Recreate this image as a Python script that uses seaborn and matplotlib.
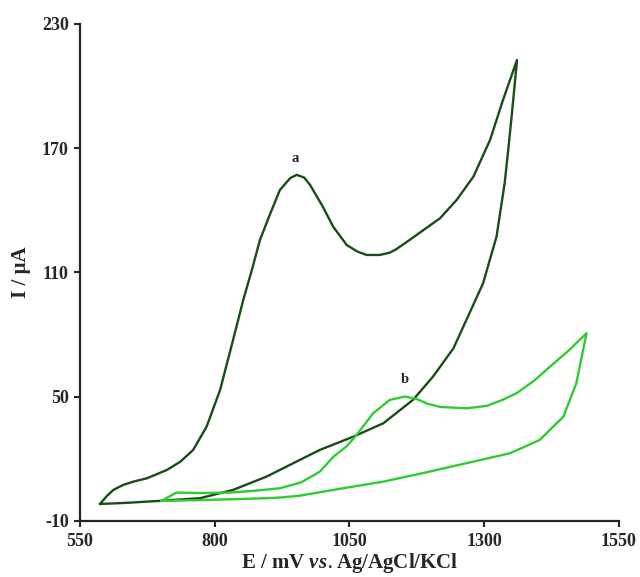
import pandas as pd
import seaborn as sns
import matplotlib.pyplot as plt

# curve a: forward + reverse scan
pot_a = [587, 600, 612, 630, 649, 674, 711, 736, 760, 785, 810, 834, 853, 869, 884, 902, 921,
         940, 952, 966, 977, 1000, 1020, 1045, 1065, 1082, 1106, 1125, 1137, 1162, 1185, 1205,
         1218, 1249, 1280, 1311, 1335, 1361,
         1356, 1351, 1345, 1338, 1323, 1298, 1267, 1243, 1205, 1168, 1113, 1057, 995,
         958, 896, 834, 773, 698, 640, 587]
cur_a = [-1.9, 2.0, 4.9, 7.3, 8.9, 10.5, 14.5, 18.5, 24.2, 35.5, 53.2, 77.3, 96.7, 111.2,
         125.7, 137.7, 149.8, 155.5, 157.1, 155.8, 152.2, 142, 132, 123.2, 120, 118.4, 118.4,
         119.5, 121.2, 125.7, 130, 133.7, 136.1, 145, 156.2, 174, 193.3, 212.6,
         199, 185.4, 170, 153, 127.3, 104.7, 87, 73.3, 59.6, 48.4, 37.1, 30.6, 24.2,
         19.4, 11.3, 4.9, 0.9, -0.4, -1.3, -1.9]

# curve b
pot_b = [701, 729, 773, 828, 875, 921, 960, 995, 1020, 1045, 1063, 1094, 1125, 1153, 1175,
         1195, 1218, 1267, 1305, 1335, 1360, 1392, 1422, 1458, 1490,
         1471, 1447, 1403, 1348, 1267, 1193, 1113, 1020, 958, 921, 896, 834, 773, 701]
cur_b = [-0.4, 3.6, 3.4, 3.6, 4.5, 5.7, 8.5, 13.7, 20.9, 26, 31.4, 41.9, 48.4, 50, 48.8,
         46.5, 45, 44.3, 45.5, 48.5, 51.6, 57.5, 64.4, 72.5, 80.6,
         56.4, 40.3, 29, 22.6, 17.8, 13.4, 8.9, 4.9, 2.1, 1.2, 0.9, 0.4, 0.0, -0.4]

labels = ["a", "b"]
label_pos = [(949, 162), (1153, 55)]
colors = ["#184d18", "#2ecc2e"]

sns.set_style("ticks")
plt.rcParams['font.family'] = ['Liberation Serif', 'DejaVu Serif']
plt.rcParams['axes.unicode_minus'] = False
plt.rcParams['mathtext.fontset'] = 'custom'
plt.rcParams['mathtext.it'] = 'Liberation Serif:italic:bold'

fig = plt.figure(figsize=(6.4, 5.77), dpi=100)
ax = fig.add_axes([0.125, 0.0975, 0.842, 0.861])

df_a = pd.DataFrame({"E": pot_a, "I": cur_a})
df_b = pd.DataFrame({"E": pot_b, "I": cur_b})
sns.lineplot(data=df_a, x="E", y="I", sort=False, estimator=None, color=colors[0], lw=1.7, ax=ax)
sns.lineplot(data=df_b, x="E", y="I", sort=False, estimator=None, color=colors[1], lw=1.7, ax=ax)

for lab, (x, y) in zip(labels, label_pos):
    ax.text(x, y, lab, ha="center", va="bottom", fontsize=10.5, fontweight="bold")

ax.set_xlim(550, 1550)
ax.set_ylim(-10, 230)
ax.set_xticks([550, 800, 1050, 1300, 1550])
ax.set_yticks([-10, 50, 110, 170, 230])
ax.tick_params(labelsize=13, width=1.5, length=4.5, direction="out")
ax.tick_params(axis="x", pad=4)
for t in ax.get_xticklabels() + ax.get_yticklabels():
    t.set_fontweight("bold")
for s in ["left", "bottom"]:
    ax.spines[s].set_linewidth(1.6)
sns.despine(ax=ax)

ax.set_xlabel(r"E / mV $\mathit{vs.}$Ag/AgCl/KCl", fontsize=15, fontweight="bold", labelpad=1)
ax.set_ylabel("I / µA", fontsize=15, fontweight="bold", labelpad=8)

plt.savefig("out.png", dpi=100)
